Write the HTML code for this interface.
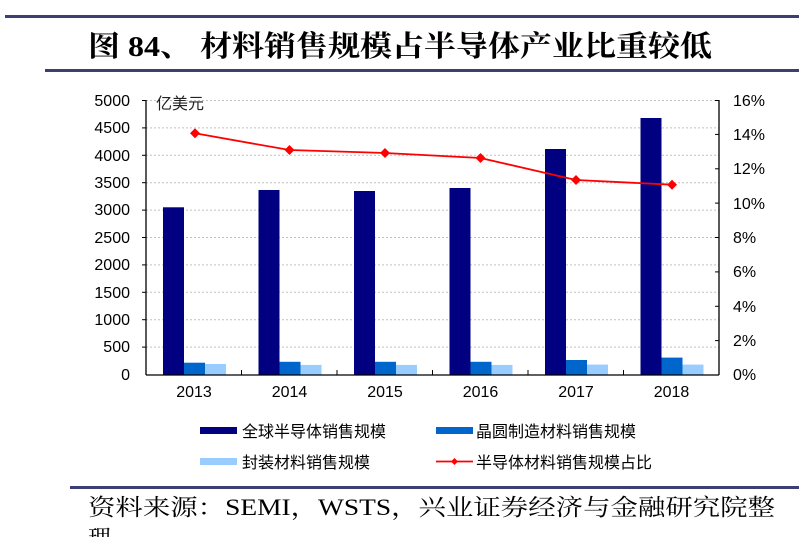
<!DOCTYPE html>
<html><head><meta charset="utf-8">
<style>
html,body{margin:0;padding:0;background:#fff;width:799px;height:537px;overflow:hidden}
svg{display:block}
.s{font-family:"Liberation Sans","Noto Sans CJK SC",sans-serif}
.r{font-family:"Liberation Serif","Noto Serif CJK SC",serif}
</style></head><body>
<svg width="799" height="537" viewBox="0 0 799 537">
<rect x="5" y="15" width="794" height="3" fill="#3d3f72"/>
<text x="88" y="56" class="r" font-size="29" font-weight="bold" fill="#000" textLength="624" lengthAdjust="spacingAndGlyphs">图 84、 材料销售规模占半导体产业比重较低</text>
<rect x="45" y="69" width="754" height="3" fill="#3d3f72"/>

<g stroke="#c0c0c0" stroke-dasharray="2,2" stroke-width="1">
<line x1="146" x2="719" y1="100.5" y2="100.5"/>
<line x1="146" x2="719" y1="127.9" y2="127.9"/>
<line x1="146" x2="719" y1="155.3" y2="155.3"/>
<line x1="146" x2="719" y1="182.7" y2="182.7"/>
<line x1="146" x2="719" y1="210.1" y2="210.1"/>
<line x1="146" x2="719" y1="237.5" y2="237.5"/>
<line x1="146" x2="719" y1="264.9" y2="264.9"/>
<line x1="146" x2="719" y1="292.3" y2="292.3"/>
<line x1="146" x2="719" y1="319.7" y2="319.7"/>
<line x1="146" x2="719" y1="347.1" y2="347.1"/>
</g>

<g>
<rect x="163" y="207.3" width="21" height="167.7" fill="#000080"/>
<rect x="184" y="362.7" width="21" height="12.3" fill="#0066cc"/>
<rect x="205" y="364" width="21" height="11" fill="#99ccff"/>

<rect x="258.5" y="190" width="21" height="185" fill="#000080"/>
<rect x="279.5" y="361.8" width="21" height="13.2" fill="#0066cc"/>
<rect x="300.5" y="364.9" width="21" height="10.1" fill="#99ccff"/>

<rect x="354" y="191" width="21" height="184" fill="#000080"/>
<rect x="375" y="361.8" width="21" height="13.2" fill="#0066cc"/>
<rect x="396" y="364.9" width="21" height="10.1" fill="#99ccff"/>

<rect x="449.5" y="188" width="21" height="187" fill="#000080"/>
<rect x="470.5" y="361.8" width="21" height="13.2" fill="#0066cc"/>
<rect x="491.5" y="364.9" width="21" height="10.1" fill="#99ccff"/>

<rect x="545" y="149" width="21" height="226" fill="#000080"/>
<rect x="566" y="360" width="21" height="15" fill="#0066cc"/>
<rect x="587" y="364.6" width="21" height="10.4" fill="#99ccff"/>

<rect x="640.5" y="118" width="21" height="257" fill="#000080"/>
<rect x="661.5" y="357.6" width="21" height="17.4" fill="#0066cc"/>
<rect x="682.5" y="364.6" width="21" height="10.4" fill="#99ccff"/>
</g>

<g stroke="#000" stroke-width="1.3" fill="none">
<line x1="146" y1="100" x2="146" y2="375"/>
<line x1="146" y1="375" x2="719" y2="375"/>
<line x1="719" y1="100" x2="719" y2="375"/>
</g>
<g stroke="#000" stroke-width="1">
<line x1="142" x2="146" y1="100.5" y2="100.5"/><line x1="142" x2="146" y1="127.9" y2="127.9"/><line x1="142" x2="146" y1="155.3" y2="155.3"/><line x1="142" x2="146" y1="182.7" y2="182.7"/><line x1="142" x2="146" y1="210.1" y2="210.1"/><line x1="142" x2="146" y1="237.5" y2="237.5"/><line x1="142" x2="146" y1="264.9" y2="264.9"/><line x1="142" x2="146" y1="292.3" y2="292.3"/><line x1="142" x2="146" y1="319.7" y2="319.7"/><line x1="142" x2="146" y1="347.1" y2="347.1"/>
<line x1="715" x2="719" y1="100.5" y2="100.5"/><line x1="715" x2="719" y1="134.4" y2="134.4"/><line x1="715" x2="719" y1="168.8" y2="168.8"/><line x1="715" x2="719" y1="203.1" y2="203.1"/><line x1="715" x2="719" y1="237.5" y2="237.5"/><line x1="715" x2="719" y1="271.9" y2="271.9"/><line x1="715" x2="719" y1="306.3" y2="306.3"/><line x1="715" x2="719" y1="340.6" y2="340.6"/>
<line x1="241.5" x2="241.5" y1="370" y2="375"/><line x1="337" x2="337" y1="370" y2="375"/><line x1="432.5" x2="432.5" y1="370" y2="375"/><line x1="528" x2="528" y1="370" y2="375"/><line x1="623.5" x2="623.5" y1="370" y2="375"/>
</g>

<g class="s" font-size="16" fill="#000" text-anchor="end">
<text x="130" y="106">5000</text><text x="130" y="133">4500</text><text x="130" y="161">4000</text><text x="130" y="188">3500</text><text x="130" y="215">3000</text><text x="130" y="243">2500</text><text x="130" y="270">2000</text><text x="130" y="298">1500</text><text x="130" y="325">1000</text><text x="130" y="352">500</text><text x="130" y="380">0</text>
</g>
<g class="s" font-size="16" fill="#000">
<text x="733" y="106">16%</text><text x="733" y="140">14%</text><text x="733" y="174">12%</text><text x="733" y="209">10%</text><text x="733" y="243">8%</text><text x="733" y="277">6%</text><text x="733" y="312">4%</text><text x="733" y="346">2%</text><text x="733" y="380">0%</text>
</g>
<text x="156" y="109" class="s" font-size="16" fill="#222">亿美元</text>
<g class="s" font-size="16" fill="#000" text-anchor="middle">
<text x="194" y="397">2013</text><text x="289.5" y="397">2014</text><text x="385" y="397">2015</text><text x="480.5" y="397">2016</text><text x="576" y="397">2017</text><text x="671.5" y="397">2018</text>
</g>

<polyline points="195,133.3 289.5,150 385,153 480.5,158 576,180 672,184.7" fill="none" stroke="#ff0000" stroke-width="1.8"/>
<g fill="#ff0000">
<path d="M195,128.3 L200,133.3 L195,138.3 L190,133.3Z"/>
<path d="M289.5,145 L294.5,150 L289.5,155 L284.5,150Z"/>
<path d="M385,148 L390,153 L385,158 L380,153Z"/>
<path d="M480.5,153 L485.5,158 L480.5,163 L475.5,158Z"/>
<path d="M576,175 L581,180 L576,185 L571,180Z"/>
<path d="M672,179.7 L677,184.7 L672,189.7 L667,184.7Z"/>
</g>

<rect x="200" y="427" width="37" height="7" fill="#000080"/>
<text x="242" y="437" class="s" font-size="16" fill="#000">全球半导体销售规模</text>
<rect x="436" y="427" width="37" height="7" fill="#0066cc"/>
<text x="476" y="437" class="s" font-size="16" fill="#000">晶圆制造材料销售规模</text>
<rect x="200" y="458" width="37" height="7" fill="#99ccff"/>
<text x="242" y="468" class="s" font-size="16" fill="#000">封装材料销售规模</text>
<line x1="436" x2="473" y1="461.5" y2="461.5" stroke="#ff0000" stroke-width="1.8"/>
<path d="M454.5,458 L458,461.5 L454.5,465 L451,461.5Z" fill="#ff0000"/>
<text x="476" y="468" class="s" font-size="16" fill="#000">半导体材料销售规模占比</text>

<rect x="70" y="486" width="729" height="3" fill="#3d3f72"/>
<text x="88" y="515" class="r" font-size="23" fill="#000" textLength="687" lengthAdjust="spacingAndGlyphs">资料来源：SEMI，WSTS，兴业证券经济与金融研究院整</text>
<text x="88" y="546" class="r" font-size="23" fill="#000">理</text>
</svg>
</body></html>
